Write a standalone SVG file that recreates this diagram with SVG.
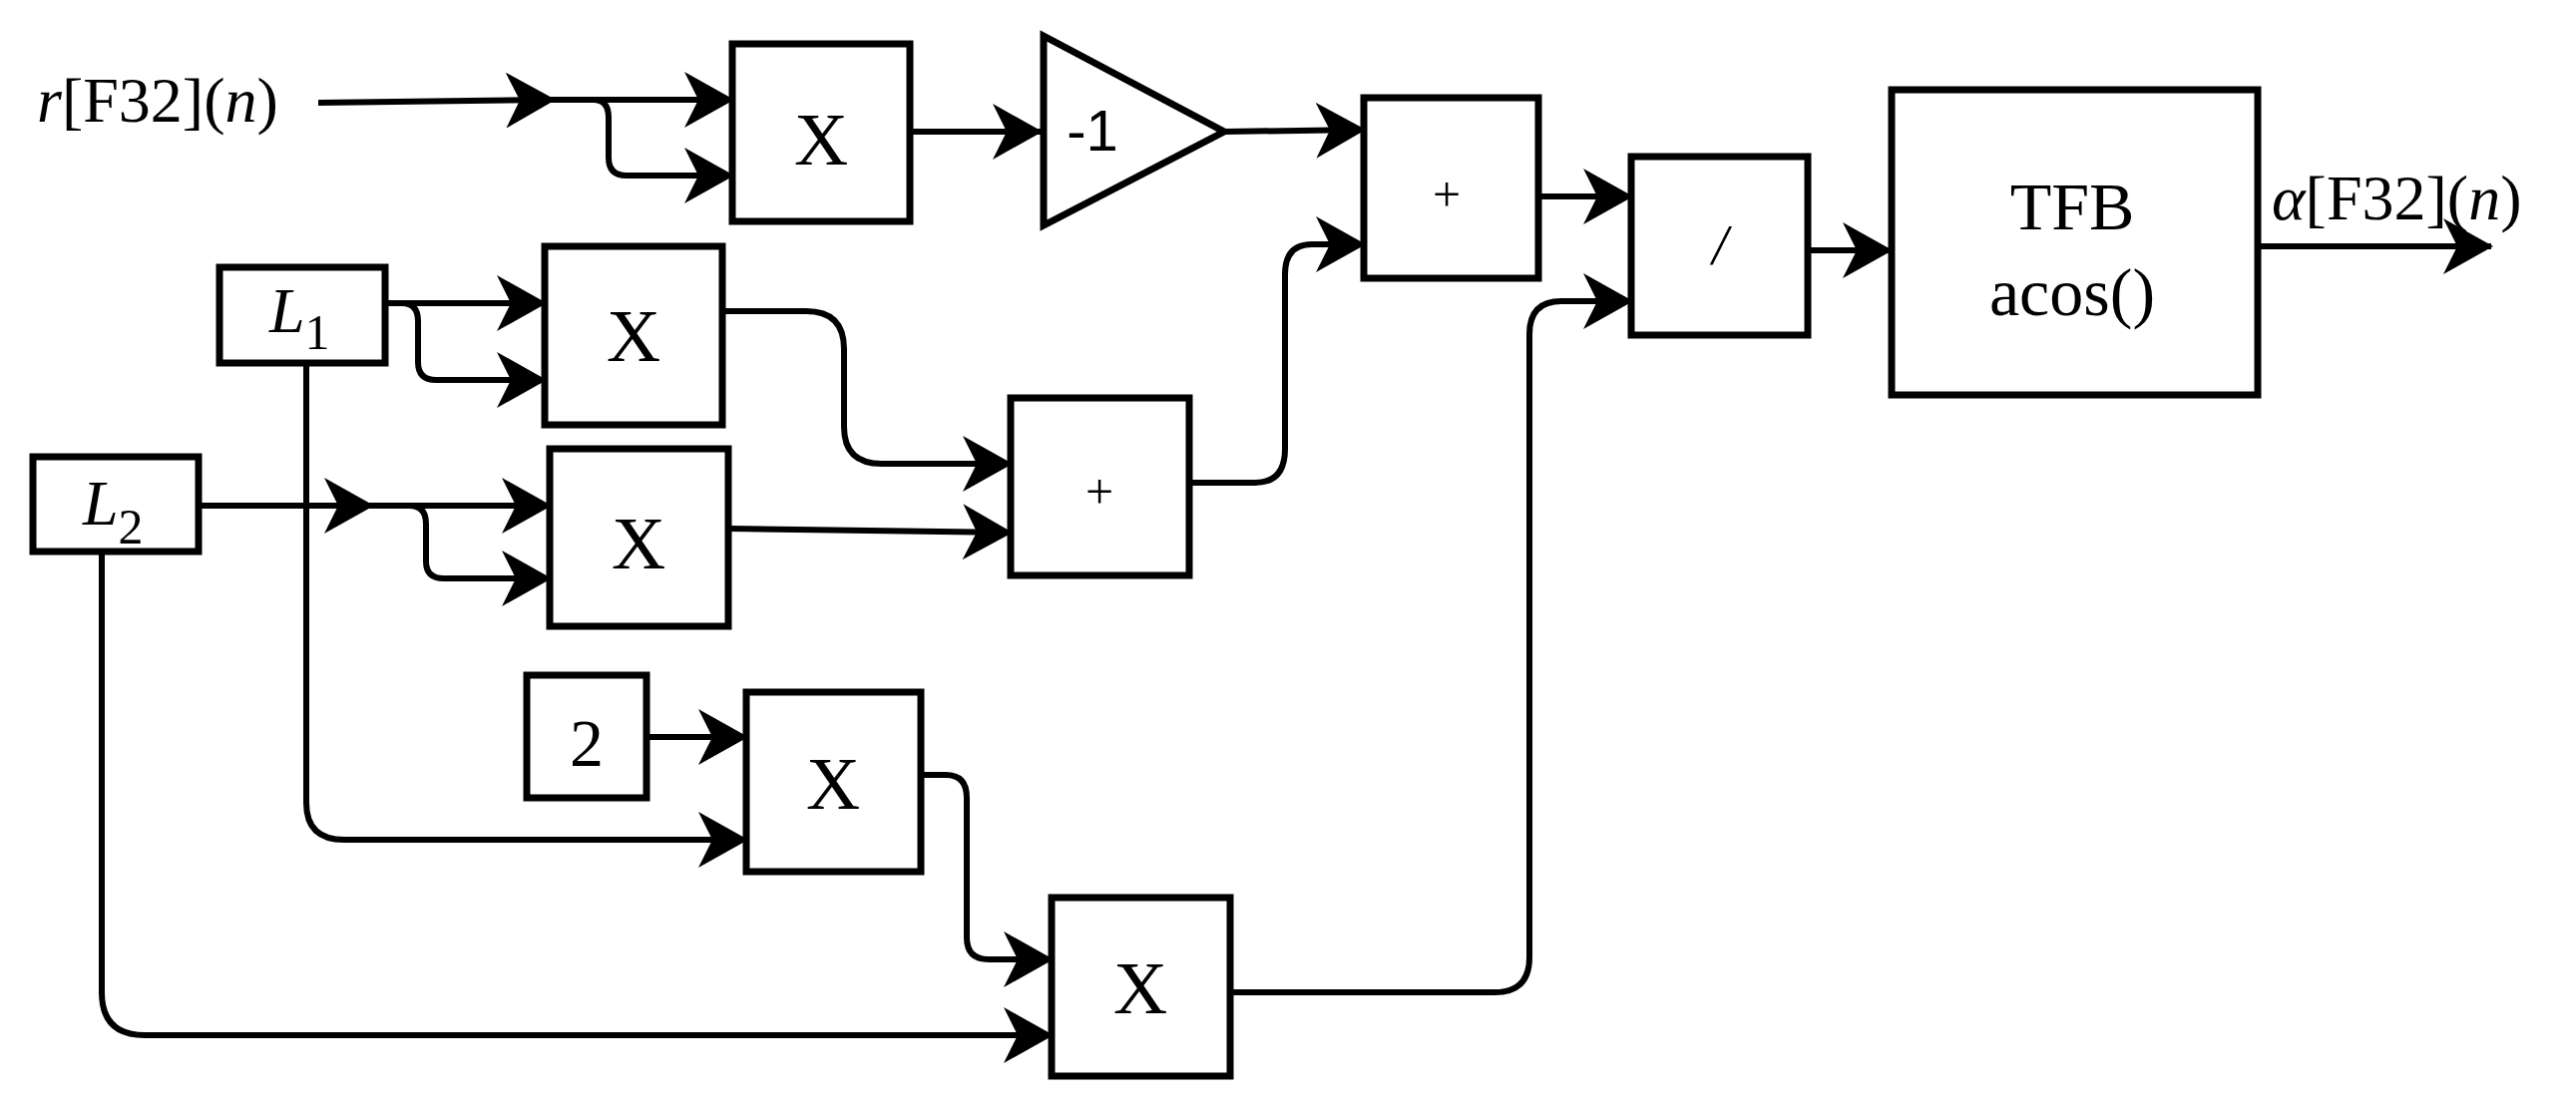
<svg xmlns="http://www.w3.org/2000/svg" width="2582" height="1109" viewBox="0 0 2582 1109">
<style>
.b{fill:#fff;stroke:#000;stroke-width:7}
.c{fill:none;stroke:#000;stroke-width:6}
.a{marker-end:url(#ar)}
.t{font-family:"Liberation Serif",serif;fill:#000}
.s{font-family:"Liberation Sans",sans-serif;fill:#000}
</style>
<defs>
<marker id="ar" markerUnits="userSpaceOnUse" viewBox="0 0 50 56" refX="48" refY="28" markerWidth="50" markerHeight="56" orient="auto">
<path d="M0,0 L50,28 L0,56 L14,28 z" fill="#000"/>
</marker>
</defs>
<rect width="2582" height="1109" fill="#fff"/>
<g id="connectors">
<path class="c a" d="M319,103 L555,100"/>
<path class="c a" d="M555,100 L734,100"/>
<path class="c a" d="M555,100 L595,100 Q610,100 610,118 L610,158 Q610,176 628,176 L734,176"/>
<path class="c a" d="M912,132 L1043,132"/>
<path class="c a" d="M1227,132 L1367,130"/>
<path class="c a" d="M1192,484 L1258,484 Q1288,484 1288,450 L1288,275 Q1288,245 1315,245 L1367,245"/>
<path class="c a" d="M1542,197 L1635,197"/>
<path class="c a" d="M1233,995 L1498,995 Q1533,995 1533,960 L1533,335 Q1533,302 1565,302 L1635,302"/>
<path class="c a" d="M1812,251 L1895,251"/>
<path class="c a" d="M2263,247 L2497,247"/>
<path class="c a" d="M386,304 L546,304"/>
<path class="c a" d="M386,304 L403,304 Q419,304 419,322 L419,363 Q419,381 437,381 L546,381"/>
<path class="c a" d="M724,312 L808,312 Q846,312 846,350 L846,428 Q846,465 884,465 L1013,465"/>
<path class="c a" d="M730,530 L1013,534"/>
<path class="c a" d="M199,507 L373,507"/>
<path class="c a" d="M373,507 L551,507"/>
<path class="c a" d="M373,507 L410,507 Q427,507 427,525 L427,563 Q427,580 445,580 L551,580"/>
<path class="c a" d="M307,364 L307,805 Q307,842 345,842 L748,842"/>
<path class="c a" d="M648,739 L748,739"/>
<path class="c a" d="M923,777 L948,777 Q969,777 969,800 L969,940 Q969,962 991,962 L1054,962"/>
<path class="c a" d="M102,553 L102,995 Q102,1038 145,1038 L1054,1038"/>
</g>
<g id="in_r"><text class="t" x="37" y="122" font-size="64"><tspan font-style="italic">r</tspan>[F32](<tspan font-style="italic">n</tspan>)</text></g>
<g id="mul1"><rect class="b" x="734" y="44" width="178" height="178"/><text class="t" x="823" y="165" font-size="75" text-anchor="middle">X</text></g>
<g id="neg"><polygon class="b" points="1046,36 1227,132 1046,226"/><text class="s" x="1095" y="151" font-size="58" text-anchor="middle">-1</text></g>
<g id="add1"><rect class="b" x="1367" y="98" width="175" height="181"/><text class="t" x="1450" y="212" font-size="50" text-anchor="middle">+</text></g>
<g id="div"><rect class="b" x="1635" y="157" width="177" height="179"/><text class="t" x="1724" y="265" font-size="56" text-anchor="middle" font-style="italic">/</text></g>
<g id="tfb"><rect class="b" x="1896" y="90" width="367" height="306"/><text class="t" x="2077" y="230" font-size="68" text-anchor="middle">TFB</text><text class="t" x="2077" y="316" font-size="68" text-anchor="middle">acos()</text></g>
<g id="out_alpha"><text class="t" x="2277" y="220" font-size="64"><tspan font-style="italic">α</tspan>[F32](<tspan font-style="italic">n</tspan>)</text></g>
<g id="L1"><rect class="b" x="220" y="268" width="166" height="96"/><text class="t" x="270" y="333" font-size="64"><tspan font-style="italic">L</tspan><tspan font-size="50" dy="17">1</tspan></text></g>
<g id="L2"><rect class="b" x="33" y="458" width="166" height="95"/><text class="t" x="83" y="526" font-size="64"><tspan font-style="italic">L</tspan><tspan font-size="50" dy="19">2</tspan></text></g>
<g id="mul2"><rect class="b" x="546" y="247" width="178" height="179"/><text class="t" x="635" y="362" font-size="75" text-anchor="middle">X</text></g>
<g id="mul3"><rect class="b" x="551" y="450" width="179" height="178"/><text class="t" x="640" y="570" font-size="75" text-anchor="middle">X</text></g>
<g id="add2"><rect class="b" x="1013" y="399" width="179" height="178"/><text class="t" x="1102" y="510" font-size="50" text-anchor="middle">+</text></g>
<g id="const2"><rect class="b" x="528" y="677" width="120" height="123"/><text class="t" x="588" y="768" font-size="68" text-anchor="middle">2</text></g>
<g id="mul4"><rect class="b" x="748" y="694" width="175" height="180"/><text class="t" x="835" y="811" font-size="75" text-anchor="middle">X</text></g>
<g id="mul5"><rect class="b" x="1054" y="900" width="179" height="179"/><text class="t" x="1143" y="1016" font-size="75" text-anchor="middle">X</text></g>
</svg>
